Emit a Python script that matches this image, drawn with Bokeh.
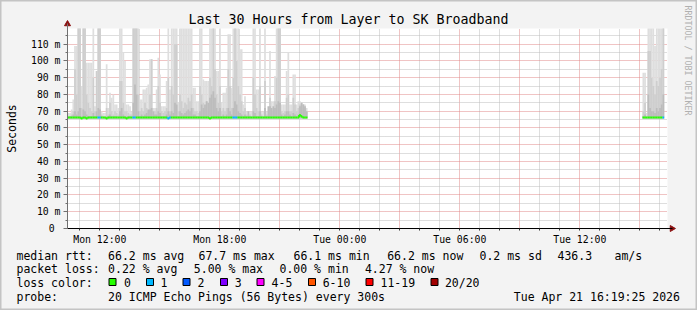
import numpy as np
from bokeh.plotting import figure
from bokeh.models import FixedTicker, Label, BoxAnnotation, Range1d
from bokeh.embed import file_html
from bokeh.resources import INLINE

# ---------------- data ----------------
T = 130  # ping beyond the top of the chart

# time axis: hours since Mon 00:00
X_START = 10.385
X_END = 40.385
STEP_H = 5 / 60          # 300 s per step
S1_START = 10.3833       # Mon 10:23
S2_START = 39.135        # Tue 15:08

y_ticks = [0, 10, 20, 30, 40, 50, 60, 70, 80, 90, 100, 110]
y_tick_labels = ["0\u00a0", "10 m", "20 m", "30 m", "40 m", "50 m", "60 m",
                 "70 m", "80 m", "90 m", "100 m", "110 m"]
y_minor = [5, 15, 25, 35, 45, 55, 65, 75, 85, 95, 105, 115]
x_ticks = [12, 15, 18, 21, 24, 27, 30, 33, 36, 39]
x_tick_labels = ["Mon 12:00", "", "Mon 18:00", "", "Tue 00:00", "", "Tue 06:00", "", "Tue 12:00", ""]
x_minor = [11, 13, 14, 16, 17, 19, 20, 22, 23, 25, 26, 28, 29, 31, 32, 34, 35, 37, 38, 40]

# section 1: smoke (max ping, 2nd layer, inner layer), median, loss
s1_max = [69, 69, 71, 77, 109, 109, T, T, 85, T, T, 99,
          99, 99, 99, T, 73, 94, T, T, 70, 69, 69, 98,
          72, 81, 78, 80, 74, 74, 72, T, T, 105, 100, 74,
          74, 73, 70, T, T, T, T, 77, 77, 83, 83, 84,
          86, 101, 101, 72, 72, 83, 102, 92, 73, 73, 73, 88,
          T, 83, T, T, T, T, 75, T, T, T, T, T,
          T, T, T, 84, 84, 76, 76, T, T, 89, 88, 88,
          88, T, T, T, T, 94, 94, T, 75, 81, 81, 84,
          116, 116, 84, T, T, T, T, 107, 107, 74, 79, 70,
          70, 70, 70, T, T, 83, 83, T, 70, 70, T, 70,
          70, 106, 76, 76, 91, T, T, T, 74, 74, 74, 94,
          105, 74, 74, 92, 92, 74, 76, 76, 75, 74, 74, 72]
s1_p2 = [67, 67, 68, 70, 95, 80, T, T, 72, T, T, 80,
         75, 72, 70, 90, 70, 94, T, T, 68, 67, 67, 72,
         68, 75, 70, 68, 70, 69, 68, 88, 88, 75, 70, 70,
         69, 68, 68, T, T, T, 80, 70, 72, 70, 75, 72,
         70, 80, 101, 68, 70, 72, 85, 75, 70, 69, 70, 72,
         90, 70, 85, 80, 110, 110, 70, 80, 76, 72, 75, 74,
         78, 76, 80, 72, 70, 70, 69, 85, 80, 75, 72, 76,
         70, 90, 85, T, 95, 80, 75, 85, 70, 72, 70, 72,
         95, 85, 72, 90, T, 100, 85, 80, 76, 70, 72, 68,
         67, 68, 67, 90, 80, 72, 70, 85, 68, 67, 88, 68,
         67, 78, 70, 70, 76, 90, T, T, 70, 69, 70, 78,
         80, 70, 70, 78, 74, 70, 72, 74, 72, 74, 72, 70]
s1_p3 = [66.5, 67, 67, 68, 70, 68, 70, 72, 67, 71, 70, 68,
         67, 67, 67, 69, 67, 70, 72, 71, 67, 66.5, 66.5, 67,
         67, 68, 67, 67, 67, 67, 66.5, 70, 72, 68, 67, 67,
         67, 67, 66.5, 75, 86, 80, 70, 67, 68, 67, 68, 69,
         71, 71, 72, 70, 68, 68, 70, 69, 67, 67, 67, 68,
         70, 68, 70, 69, 75, 74, 67, 70, 69, 68, 69, 70,
         71, 70, 72, 68, 68, 67, 67, 70, 74, 72, 74, 76,
         75, 78, 80, 82, 78, 72, 70, 72, 67, 68, 67, 68,
         72, 70, 68, 72, 76, 74, 70, 69, 68, 67, 68, 67,
         70, 67, 66.5, 70, 69, 67, 67, 70, 67, 66.5, 72, 67,
         73, 73, 72, 73, 72, 74, 76, 75, 68, 67, 68, 70,
         70, 68, 67, 69, 68, 67, 68, 73, 75, 74, 73, 70]
s1_median = [66.2, 66.2, 66.2, 66.2, 66.2, 66.2, 66.2, 66.2, 65.6, 66.2, 66.2, 65.6,
             66.2, 66.2, 66.2, 66.2, 66.2, 66.2, 66.2, 66.2, 66.2, 66.2, 66.2, 65.6,
             66.2, 66.2, 66.2, 66.2, 66.2, 66.2, 66.2, 66.2, 66.2, 66.2, 66.2, 65.6,
             66.2, 66.2, 66.2, 66.2, 66.2, 66.2, 66.2, 66.2, 66.2, 66.2, 66.2, 66.2,
             66.2, 66.2, 66.2, 66.2, 66.2, 66.2, 66.2, 66.2, 66.2, 66.2, 66.2, 66.2,
             65.6, 66.2, 66.2, 66.2, 66.2, 66.2, 66.2, 66.2, 66.2, 66.2, 66.2, 66.2,
             66.2, 66.2, 66.2, 66.2, 66.2, 66.2, 66.2, 66.2, 66.2, 66.2, 66.2, 66.2,
             66.2, 65.6, 66.2, 66.2, 66.2, 66.2, 66.2, 66.2, 66.2, 66.2, 66.2, 66.2,
             66.2, 66.2, 66.2, 66.2, 66.2, 66.2, 66.2, 66.2, 66.2, 66.2, 66.2, 66.2,
             66.2, 66.2, 66.2, 66.2, 66.2, 66.2, 66.2, 66.2, 66.2, 66.2, 66.2, 66.2,
             66.2, 66.2, 66.2, 66.2, 66.2, 66.2, 66.2, 66.2, 66.2, 66.2, 66.2, 66.2,
             66.2, 66.2, 66.2, 66.2, 66.2, 66.2, 66.2, 67.7, 66.8, 66.2, 66.2, 66.2]
s1_loss = [0, 0, 0, 0, 0, 0, 0, 0, 0, 0, 0, 0,
           0, 0, 0, 0, 0, 0, 1, 1, 0, 0, 0, 0,
           0, 0, 0, 0, 0, 0, 0, 0, 0, 0, 0, 0,
           0, 0, 0, 1, 1, 0, 0, 0, 0, 0, 0, 0,
           0, 0, 0, 0, 0, 0, 0, 0, 0, 0, 0, 0,
           1, 1, 0, 0, 0, 0, 0, 0, 0, 0, 0, 0,
           0, 0, 0, 0, 0, 0, 0, 0, 0, 0, 0, 0,
           0, 0, 0, 0, 0, 0, 0, 0, 0, 0, 0, 0,
           0, 0, 0, 1, 1, 1, 0, 0, 0, 0, 0, 0,
           0, 0, 0, 0, 0, 0, 0, 0, 0, 0, 0, 0,
           0, 0, 0, 0, 0, 0, 0, 0, 0, 0, 0, 0,
           0, 0, 0, 0, 0, 0, 0, 0, 0, 0, 0, 0]

# section 2
s2_max = [93, 93, 69, T, T, T, T, 109, T, T, T, T, T]
s2_p2 = [70, 75, 67, 106, 106, 90, 85, 80, 88, 85, 90, 95, T]
s2_p3 = [67, 68, 66.5, 80, 72, 70, 70, 69, 72, 70, 72, 74, 80]
s2_median = [66.2, 66.2, 66.2, 66.2, 66.2, 66.2, 66.2, 66.2, 66.2, 66.2, 66.2, 66.2, 66.2]
s2_loss = [0, 0, 0, 0, 0, 0, 0, 0, 0, 0, 0, 0, 1]

loss_names = ["0", "1", "2", "3", "4-5", "6-10", "11-19", "20/20"]
loss_colors = ["#26ff00", "#00b8ff", "#0059ff", "#7e00ff", "#ff00ff", "#ff5500", "#ff0000", "#a10000"]

stats_rtt = ["66.2 ms avg", "67.7 ms max", "66.1 ms min", "66.2 ms now", "0.2 ms sd", "436.3", "am/s"]
stats_loss = ["0.22 % avg", "5.00 % max", "0.00 % min", "4.27 % now"]
probe_text = "20 ICMP Echo Pings (56 Bytes) every 300s"
stamp_text = "Tue Apr 21 16:19:25 2026"
title_text = "Last 30 Hours from Layer to SK Broadband"

# ---------------- style / layout ----------------
Y_MAX = 119.4
SMOKE_BASE = 65.7
MONO = "DejaVu Sans Mono"
BG = "#f3f3f3"
W, H = 697, 310
FL, FR, FT, FB = 67, 667, 28, 228          # plot area in page pixels
PX_PER_H = (FR - FL) / (X_END - X_START)
PX_PER_MS = (FB - FT) / Y_MAX


def dx(px):
    return X_START + (px - FL) / PX_PER_H


def dy(py):
    return (FB - py) / PX_PER_MS


def loss_color(n):
    if n <= 3:
        return loss_colors[n]
    if n <= 5:
        return loss_colors[4]
    if n <= 10:
        return loss_colors[5]
    if n <= 19:
        return loss_colors[6]
    return loss_colors[7]


p = figure(width=W, height=H, output_backend="svg", toolbar_location=None,
           x_range=Range1d(dx(0), dx(W)), y_range=Range1d(dy(H), dy(0)),
           min_border=0, min_border_left=0, min_border_right=0, min_border_top=0, min_border_bottom=0,
           background_fill_color=BG, border_fill_color=BG,
           outline_line_color="#c4c4c4", outline_line_width=2)

# white plotting area
p.add_layout(BoxAnnotation(left=X_START, right=X_END, bottom=0, top=Y_MAX, fill_color="white",
                           fill_alpha=1, line_color=None, level="image"))

# axes / grid
xt = FixedTicker(ticks=x_ticks, minor_ticks=x_minor)
yt = FixedTicker(ticks=y_ticks, minor_ticks=y_minor)
p.xaxis.ticker = xt
p.yaxis.ticker = yt
p.xgrid.ticker = xt
p.ygrid.ticker = yt
p.xaxis.fixed_location = 0
p.yaxis.fixed_location = X_START
p.xaxis.bounds = (X_START, dx(FR + 5))
p.yaxis.bounds = (0, dy(FT - 5))
p.xaxis.major_label_overrides = dict(zip(x_ticks, x_tick_labels))
p.yaxis.major_label_overrides = dict(zip(y_ticks, y_tick_labels))
p.xgrid.bounds = (X_START, X_END)
p.ygrid.bounds = (0, Y_MAX)
has_cross = "cross_bounds" in p.xgrid.properties()
if has_cross:
    p.xgrid.cross_bounds = (0, Y_MAX)
    p.ygrid.cross_bounds = (X_START, X_END)
for g in (p.xgrid, p.ygrid):
    g.grid_line_color = "#e08888"
    g.grid_line_dash = "1 1"
    g.grid_line_width = 1
    g.minor_grid_line_color = "#bdbdbd"
    g.minor_grid_line_dash = "1 1"
    g.minor_grid_line_width = 1
if not has_cross:
    for kw in (dict(right=X_START), dict(left=X_END), dict(bottom=Y_MAX), dict(top=0)):
        p.add_layout(BoxAnnotation(fill_color=BG, fill_alpha=1, line_color=None, level="underlay", **kw))
for ax in (p.xaxis, p.yaxis):
    ax.major_label_text_font = MONO
    ax.major_label_text_font_size = "9.8px"
    ax.major_label_text_color = "#000000"
    ax.major_tick_in = 0
    ax.minor_tick_in = 0
p.xaxis.axis_line_color = "#000000"
p.xaxis.major_tick_line_color = "#333333"
p.xaxis.minor_tick_line_color = "#333333"
p.xaxis.major_tick_out = 2
p.xaxis.minor_tick_out = 2
p.xaxis.major_label_standoff = 3
p.yaxis.axis_line_color = "#707070"
p.yaxis.major_tick_line_color = "#707070"
p.yaxis.minor_tick_line_color = "#707070"
p.yaxis.major_tick_out = 4
p.yaxis.minor_tick_out = 2
p.yaxis.major_label_standoff = 3


def draw_section(start, smax, sp2, sp3, med, loss):
    n = len(smax)
    left = start + np.arange(n) * STEP_H
    right = left + STEP_H * 1.03
    base = np.full(n, SMOKE_BASE)
    # clip the smoke at the top of the plotting area
    p.quad(left=left, right=right, bottom=base, top=np.minimum(np.array(smax, float), Y_MAX),
           fill_color="#dedede", line_color=None)
    p.quad(left=left, right=right, bottom=base, top=np.minimum(np.array(sp2, float), Y_MAX),
           fill_color="#cecece", line_color=None)
    p.quad(left=left, right=right, bottom=base, top=np.minimum(np.array(sp3, float), Y_MAX),
           fill_color="#bcbcbc", line_color=None)
    med = np.array(med, float)
    cols = [loss_color(v) for v in loss]
    p.segment(x0=left, x1=left + STEP_H, y0=med, y1=med, line_color=cols, line_width=2)
    p.segment(x0=left[1:], x1=left[1:], y0=med[:-1], y1=med[1:], line_color=cols[1:], line_width=2)


draw_section(S1_START, s1_max, s1_p2, s1_p3, s1_median, s1_loss)
draw_section(S2_START, s2_max, s2_p2, s2_p3, s2_median, s2_loss)

# axis arrow heads
p.scatter(x=[X_START], y=[dy(FT - 4.5)], marker="triangle", size=6,
          fill_color="#8b1010", line_color="#8b1010")
p.scatter(x=[dx(FR + 4.5)], y=[0], marker="triangle", angle=-np.pi / 2, size=6,
          fill_color="#8b1010", line_color="#8b1010")


def lab(px, py, text, size="11.5px", align="left", color="#000000", angle=0.0):
    p.add_layout(Label(x=dx(px), y=dy(py), text=text, text_font=MONO, text_font_size=size,
                       text_align=align, text_baseline="middle", text_color=color, angle=angle))


lab(348, 19, title_text, size="13.3px", align="center")
lab(11, 128, "Seconds", size="11.5px", align="center", angle=np.pi / 2)
lab(687, 5, "RRDTOOL / TOBI OETIKER", size="8.3px", align="left", color="#b0b0b0", angle=-np.pi / 2)

y1, y2, y3, y4 = 255, 268, 282, 296.5
lab(16, y1, "median rtt:")
for x, t in zip([107.6, 198, 293, 386.7, 479, 557, 614], stats_rtt):
    lab(x, y1, t)
lab(16, y2, "packet loss:")
for x, t in zip([107.6, 193.3, 279, 364.4], stats_loss):
    lab(x, y2, t)
lab(16, y3, "loss color:")
box_x = [112, 149.5, 186, 223.5, 260, 311.5, 369, 434]
txt_x = [123.6, 160, 196.9, 234.2, 271.1, 322.2, 380, 444.4]
p.rect(x=[dx(v) for v in box_x], y=[dy(y3 - 0.5)] * len(box_x), width=7, height=7,
       width_units="screen", height_units="screen", fill_color=loss_colors,
       line_color="#000000", line_width=1)
for tx, name in zip(txt_x, loss_names):
    lab(tx, y3, name)
lab(16, y4, "probe:")
lab(107.6, y4, probe_text)
lab(513.3, y4, stamp_text)

open("out.html", "w").write(file_html(p, INLINE))
